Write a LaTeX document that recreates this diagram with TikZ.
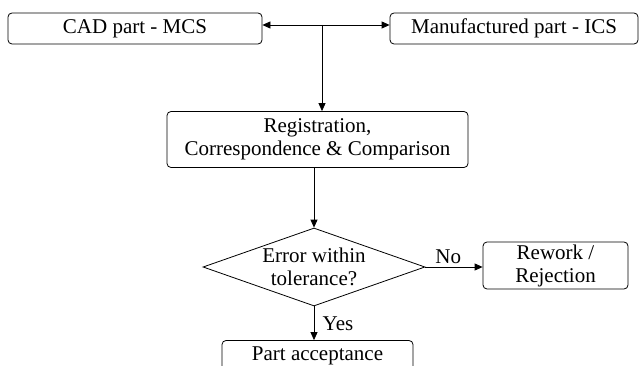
\documentclass[tikz,border=0pt]{standalone}
\usepackage{fontspec}
\setmainfont{Liberation Serif}
\usepackage{tikz}
\usetikzlibrary{shapes.geometric,arrows.meta}
\tikzset{
  flowbox/.style={rectangle, rounded corners=4pt, draw, line width=0.8pt, align=center, inner sep=0pt},
  decbox/.style={diamond, draw, line width=0.8pt, align=center, inner sep=0pt, aspect=2.85},
  flowline/.style={line width=0.8pt, -{Triangle[length=8pt,width=7pt]}},
}

\begin{document}
\begin{tikzpicture}[x=1pt, y=-1pt, font=\fontsize{21}{23}\selectfont]
  \clip (0,0) rectangle (639,366);
  \fill[white] (0,0) rectangle (639,366);
  \node[flowbox, minimum width=254pt, minimum height=31pt] (cad) at (135,28.5) {CAD part - MCS};
  \node[flowbox, minimum width=248pt, minimum height=31pt] (mfg) at (514,28.5) {Manufactured part - ICS};
  \node[flowbox, minimum width=301pt, minimum height=56pt] (reg) at (317.5,139.5) {Registration,\\Correspondence \& Comparison};
  \node[decbox, minimum width=222pt, minimum height=78pt] (dec) at (314,267) {Error within\\tolerance?};
  \node[flowbox, minimum width=145pt, minimum height=47pt] (rew) at (555.5,265.5) {Rework /\\Rejection};
  \node[flowbox, minimum width=191pt, minimum height=31pt] (acc) at (317.5,356) {Part acceptance};
  \coordinate (join) at (322,25);
  \draw[flowline, {Triangle[length=8pt,width=7pt]}-{Triangle[length=8pt,width=7pt]}] (cad.east |- join) -- (mfg.west |- join);
  \draw[flowline] (join) -- (reg.north -| join);
  \draw[flowline] (reg.south -| dec.north) -- (dec.north);
  \draw[flowline] (dec.east) -- node[above, pos=0.4] {No} (dec.east -| rew.west);
  \draw[flowline] (dec.south) -- node[right, pos=0.5, xshift=5pt] {Yes} (dec.south |- acc.north);
\end{tikzpicture}
\end{document}
